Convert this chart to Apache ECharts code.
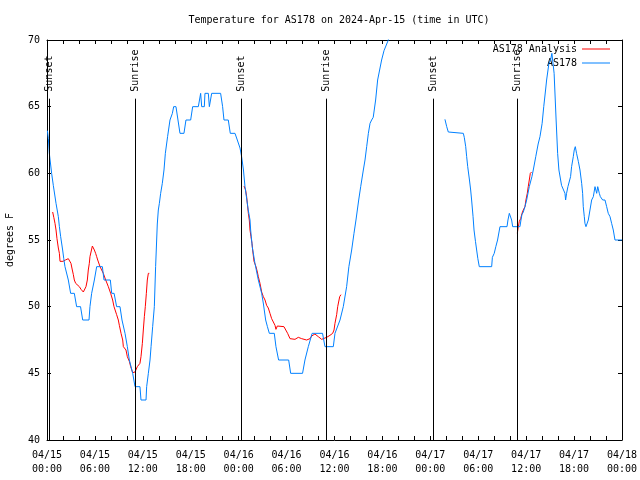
<!DOCTYPE html>
<html><head><meta charset="utf-8">
<script src="https://cdn.jsdelivr.net/npm/echarts@6/dist/echarts.min.js"></script>
<style>html,body{margin:0;padding:0;background:#fff}#c{width:640px;height:480px}</style>
</head><body><div id="c"></div>
<script>
// hours since 2024-04-15 00:00 UTC
const tickDates = ['04/15','04/15','04/15','04/15','04/16','04/16','04/16','04/16','04/17','04/17','04/17','04/17','04/18'];
const tickTimes = ['00:00','06:00','12:00','18:00','00:00','06:00','12:00','18:00','00:00','06:00','12:00','18:00','00:00'];
const sunsetHours = [0.29, 24.37, 48.37];
const sunriseHours = [11.1, 35.02, 58.9];
const eventLineTop = 65.6;

const as178 = [
 [0.05,63.2],[0.17,62.6],[0.29,61.5],[0.58,60],[0.79,59.1],[1.13,57.75],[1.42,56.75],[1.55,56],[1.71,55.25],[1.96,54.25],
 [2.1,53.6],[2.25,53],[2.45,53],[2.67,52],[2.96,51],[3.42,51],[3.71,50],[4.2,50],[4.47,49],[5.26,49],
 [5.38,50],[5.59,51],[5.93,52],[6.22,53],[6.93,53],[7.14,52],[7.93,52],[8.1,51],[8.4,51],[8.72,50],
 [9.14,50],[9.39,49],[9.77,48],[10.06,47],[10.31,46],[10.73,45],[11.02,44],[11.64,44],[11.77,43],[12.4,43],
 [12.48,44],[12.69,45],[12.9,46],[13.03,47],[13.23,48.5],[13.44,50],[13.6,53],[13.81,56.2],[13.94,57.25],[14.07,57.75],
 [14.23,58.5],[14.44,59.25],[14.65,60.25],[14.82,61.5],[15.1,62.75],[15.4,64],[15.7,64.5],[15.86,65],[16.15,65],[16.4,64],
 [16.65,63],[17.15,63],[17.4,64],[17.99,64],[18.24,65],[18.95,65],[19.24,66],[19.37,65],[19.7,65],[19.78,66],
 [20.2,66],[20.33,65],[20.49,65],[20.62,66],[21.74,66],[21.99,65],[22.16,64],[22.7,64],[22.95,63],[23.54,63],
 [23.83,62.5],[24.17,61.9],[24.37,61.25],[24.6,60.25],[24.79,59],[25.2,57.25],[25.42,56.5],[25.5,55.75],[25.7,54.5],[26.04,53.25],
 [26.46,52],[26.88,51],[27.1,50.2],[27.38,49],[27.6,48.5],[27.84,48],[28.46,48],[28.67,47],[29.0,46],[30.26,46],
 [30.51,45],[32.0,45],[32.3,46],[32.72,47],[33.2,48],[34.5,48],[34.81,47],[35.85,47],[36.06,48],[36.69,49],
 [37.1,50],[37.52,51.5],[37.8,53],[38.15,54.25],[38.44,55.5],[38.69,56.5],[39.03,58],[39.28,59],[39.61,60.25],[39.82,61],
 [40.03,62],[40.24,63],[40.45,63.75],[40.65,64],[40.85,64.2],[41.15,65.5],[41.4,67],[41.9,68.5],[42.2,69.2],[42.74,70],
 [42.9,71], null,
 [49.83,64.05],[50.05,63.5],[50.25,63.1],[50.46,63],[52.13,63],[52.25,62.7],[52.43,62],[52.55,61.25],[52.68,60.5],[52.9,59.5],
 [53.05,58.75],[53.17,58],[53.35,56.75],[53.47,55.75],[53.65,54.9],[53.8,54.25],[53.95,53.6],[54.13,53],[55.68,53],[55.77,53.7],
 [56.0,54],[56.2,54.5],[56.42,55],[56.72,56],[57.6,56],[57.72,56.5],[57.89,57],[58.05,57],[58.18,56.5],[58.31,56],
 [59.22,56],[59.35,56.5],[59.47,56.9],[59.64,57.1],[59.85,57.5],[60.06,58],[60.39,59],[60.72,59.75],[60.89,60.25],[61.2,61.25],
 [61.5,62.2],[61.73,62.75],[62.0,63.75],[62.2,65],[62.43,66.25],[62.56,67],[62.85,68.25],[63.06,68.5],[63.22,69],[63.31,69],
 [63.5,67.5],[63.75,64],[63.94,61.5],[64.1,60.25],[64.43,59.1],[64.65,59],[64.86,58.5],[64.94,58],[65.06,58.5],[65.23,59],
 [65.4,59],[65.56,59.75],[65.69,60.5],[65.9,61.25],[66.02,61.75],[66.15,62],[66.31,61.5],[66.53,60.9],[66.74,60.25],[66.95,59.25],
 [67.07,58.5],[67.15,57.5],[67.28,56.75],[67.36,56.25],[67.49,56],[67.65,56],[67.78,56.5],[67.99,57.25],[68.2,58],[68.41,58.25],
 [68.62,59],[68.75,59],[68.83,58.5],[68.96,59],[69.08,59],[69.16,58.5],[69.29,58.25],[69.58,58],[69.87,58],[70.08,57.5],
 [70.28,57],[70.5,56.75],[70.7,56.25],[70.91,55.75],[71.12,55],[72.0,55]
];

const analysis = [
 [0.71,57.1],[0.85,56.7],[1.0,56.25],[1.13,55.75],[1.25,55.1],[1.42,54.4],[1.55,54],[1.63,53.4],[2.0,53.4],[2.3,53.5],
 [2.67,53.6],[2.88,53.5],[3.0,53.25],[3.17,52.75],[3.3,52.4],[3.42,52],[3.59,51.75],[3.84,51.6],[4.05,51.5],[4.26,51.3],
 [4.55,51.1],[4.76,51.05],[4.88,51.5],[5.05,52],[5.17,52.75],[5.3,53.25],[5.38,53.75],[5.51,54.1],[5.68,54.55],[5.8,54.5],
 [5.93,54.25],[6.09,54],[6.22,53.75],[6.35,53.5],[6.64,53],[7.05,52.5],[7.35,52],[7.68,51.5],[7.97,51],[8.22,50.5],
 [8.39,50],[8.72,49.4],[8.93,49.0],[9.06,48.6],[9.27,48],[9.48,47.5],[9.56,47],[9.89,46.75],[10.06,46.25],[10.31,45.9],
 [10.48,45.5],[10.73,45.05],[10.9,45],[11.02,45.1],[11.14,45.25],[11.31,45.5],[11.52,45.6],[11.64,45.75],[11.77,46.25],[11.94,47.25],
 [12.06,48.25],[12.19,49.25],[12.31,50],[12.44,51],[12.56,52],[12.69,52.5],[12.81,52.5], null,
 [24.67,59.05],[24.87,58.75],[25.0,58.25],[25.21,57],[25.33,56.5],[25.42,55.75],[25.54,55.25],[25.67,54.75],[25.75,54.25],[25.92,53.4],
 [26.17,53],[26.34,52.6],[26.46,52.25],[26.67,51.75],[26.88,51.1],[27.09,50.75],[27.3,50.5],[27.5,50.1],[27.71,49.9],[27.92,49.5],
 [28.13,49.1],[28.34,49],[28.55,48.6],[28.67,48.3],[28.84,48.55],[29.05,48.6],[29.67,48.5],[29.88,48.4],[30.13,48],[30.43,47.6],
 [30.63,47.5],[31.05,47.55],[31.47,47.7],[31.89,47.6],[32.51,47.5],[32.93,47.6],[33.14,47.8],[33.55,47.95],[33.97,47.75],[34.39,47.55],
 [34.6,47.5],[35.02,47.7],[35.43,47.85],[35.77,48],[35.94,48.25],[36.06,48.75],[36.27,49.4],[36.4,50],[36.65,50.75],[36.81,50.9], null,
 [58.89,55.5],[59.02,56],[59.14,56.4],[59.31,56.6],[59.48,57],[59.64,57.25],[59.85,57.5],[59.97,58],[60.14,58.5],[60.26,59],
 [60.39,59.5],[60.52,60],[60.68,60.1]
];

const FONT = '"DejaVu Sans Mono", "Liberation Mono", monospace';
const chart = echarts.init(document.getElementById('c'), null, {renderer: 'canvas'});

function eventLines(hours, name) {
  const out = [];
  hours.forEach(t => {
    out.push([{name: name, coord: [t, 40], label: {show: false}}, {coord: [t, eventLineTop]}]);
    out.push([{name: name, coord: [t, eventLineTop],
      lineStyle: {color: 'rgba(0,0,0,0)', width: 0},
      label: {show: true, position: 'insideStart', formatter: '{b}', distance: [7, 0], opacity: 1,
        fontFamily: FONT, fontSize: 10, color: '#000'}}, {coord: [t, 70]}]);
  });
  return out;
}

const axisCommon = {
  axisLine: {show: true, onZero: false, lineStyle: {color: '#000', width: 1}},
  axisTick: {show: true, inside: true, length: 4, lineStyle: {color: '#000', width: 1}},
  splitLine: {show: false}
};

chart.setOption({
  animation: false,
  backgroundColor: '#fff',
  title: {
    text: 'Temperature for AS178 on 2024-Apr-15 (time in UTC)',
    left: 334, textAlign: 'center', top: 10,
    textStyle: {fontFamily: FONT, fontSize: 10, fontWeight: 'normal', color: '#000'}
  },
  legend: {
    data: ['AS178 Analysis', 'AS178'],
    orient: 'vertical', right: 30, top: 43, align: 'right', padding: 0,
    icon: 'rect', itemWidth: 28, itemHeight: 1, itemGap: 2,
    textStyle: {fontFamily: FONT, fontSize: 10, color: '#000', lineHeight: 12}
  },
  grid: {left: 47, right: 18, top: 40, bottom: 40, containLabel: false, outerBoundsMode: 'none'},
  xAxis: [
    Object.assign({}, axisCommon, {
      type: 'value', min: 0, max: 72, interval: 6, position: 'bottom',
      minorTick: {show: true, splitNumber: 3, length: 4, lineStyle: {color: '#000'}},
      axisLabel: {
        formatter: v => tickDates[Math.round(v / 6)] + '\n' + tickTimes[Math.round(v / 6)],
        fontFamily: FONT, fontSize: 10, color: '#000', lineHeight: 14, margin: 8,
        showMinLabel: true, showMaxLabel: true, hideOverlap: false
      }
    }),
    Object.assign({}, axisCommon, {
      type: 'value', min: 0, max: 72, interval: 6, position: 'top',
      minorTick: {show: true, splitNumber: 3, length: 4, lineStyle: {color: '#000'}},
      axisLabel: {show: false}
    })
  ],
  yAxis: [
    Object.assign({}, axisCommon, {
      type: 'value', min: 40, max: 70, interval: 5, position: 'left',
      name: 'degrees F', nameLocation: 'middle', nameGap: 32, nameRotate: 90,
      nameTextStyle: {fontFamily: FONT, fontSize: 10, color: '#000'},
      axisLabel: {fontFamily: FONT, fontSize: 10, color: '#000', margin: 7, showMinLabel: true, showMaxLabel: true}
    }),
    Object.assign({}, axisCommon, {
      type: 'value', min: 40, max: 70, interval: 5, position: 'right',
      axisLabel: {show: false}
    })
  ],
  series: [
    {
      name: 'AS178 Analysis', type: 'line', data: analysis, symbol: 'none', showSymbol: false,
      connectNulls: false, color: '#ff0000', lineStyle: {color: '#ff0000', width: 1}, z: 3
    },
    {
      name: 'AS178', type: 'line', data: as178, symbol: 'none', showSymbol: false,
      connectNulls: false, color: '#0080ff', lineStyle: {color: '#0080ff', width: 1}, z: 4,
      markLine: {
        silent: true, symbol: ['none', 'none'], animation: false,
        lineStyle: {color: '#000', width: 1, type: 'solid'},
        data: eventLines(sunsetHours, 'Sunset').concat(eventLines(sunriseHours, 'Sunrise'))
      }
    }
  ]
});
</script>
</body></html>
